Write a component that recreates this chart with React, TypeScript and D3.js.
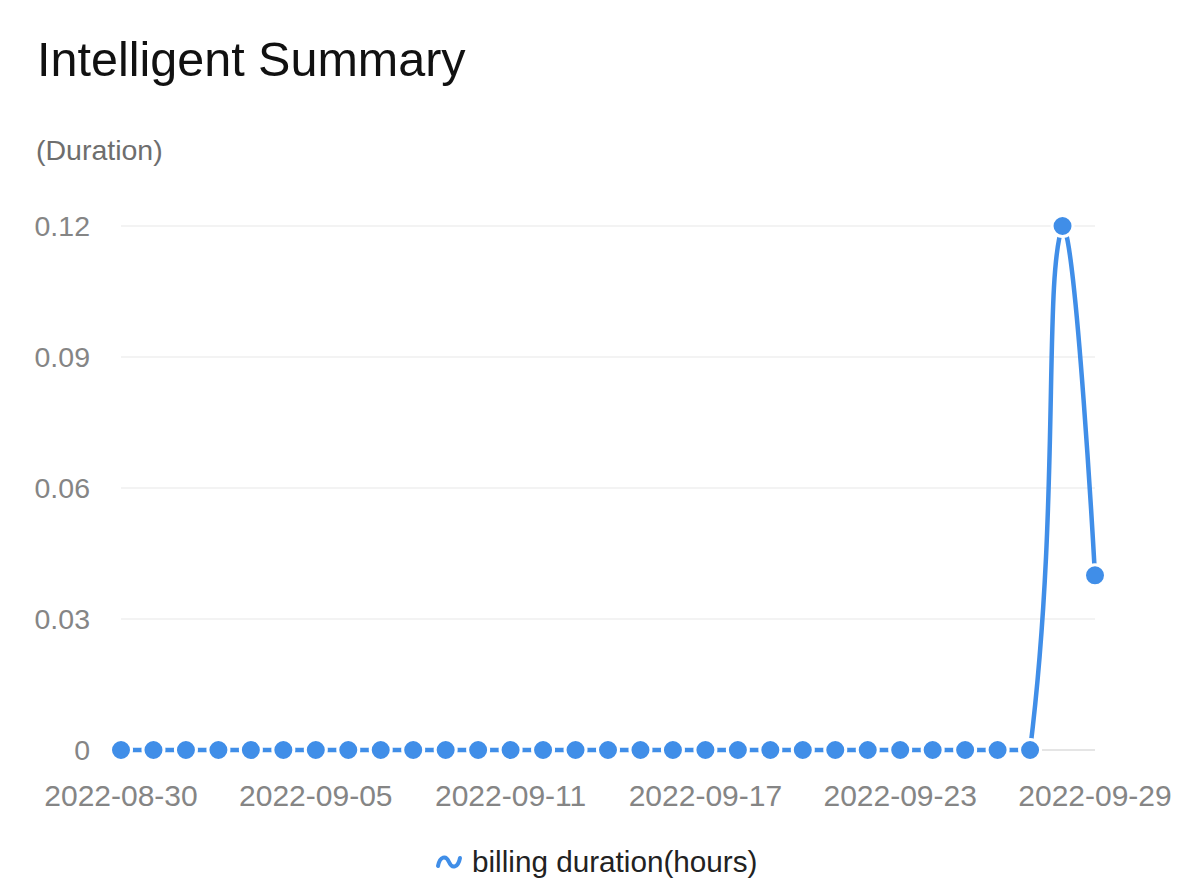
import React, { useEffect, useRef } from "react";
import * as d3 from "d3";

const dates = [
  "2022-08-30", "2022-08-31", "2022-09-01", "2022-09-02", "2022-09-03", "2022-09-04",
  "2022-09-05", "2022-09-06", "2022-09-07", "2022-09-08", "2022-09-09", "2022-09-10",
  "2022-09-11", "2022-09-12", "2022-09-13", "2022-09-14", "2022-09-15", "2022-09-16",
  "2022-09-17", "2022-09-18", "2022-09-19", "2022-09-20", "2022-09-21", "2022-09-22",
  "2022-09-23", "2022-09-24", "2022-09-25", "2022-09-26", "2022-09-27", "2022-09-28",
  "2022-09-29",
];
const billingHours = [
  0, 0, 0, 0, 0, 0, 0, 0, 0, 0, 0, 0, 0, 0, 0, 0, 0, 0, 0, 0, 0, 0, 0, 0, 0, 0, 0, 0, 0,
  0.12, 0.04,
];
const xTickLabels = ["2022-08-30", "2022-09-05", "2022-09-11", "2022-09-17", "2022-09-23", "2022-09-29"];
const yTicks = [0, 0.03, 0.06, 0.09, 0.12];

const W = 1184;
const H = 896;
const BLUE = "#408ee8";
const FONT = "'Liberation Sans', Arial, Helvetica, sans-serif";

const clamp = (v: number, a: number, b: number) => Math.min(Math.max(v, Math.min(a, b)), Math.max(a, b));

// smooth curve like the original chart's (control points scaled by segment length,
// kept inside each segment's box so it never overshoots)
function smoothCurve(context: any) {
  let pts: [number, number][] = [];
  const smooth = 0.5;
  return {
    areaStart() {},
    areaEnd() {},
    lineStart() { pts = []; },
    point(x: number, y: number) { pts.push([x, y]); },
    lineEnd() {
      if (!pts.length) return;
      context.moveTo(pts[0][0], pts[0][1]);
      let cpx0 = pts[0][0], cpy0 = pts[0][1];
      for (let i = 1; i < pts.length; i++) {
        const [x, y] = pts[i];
        const [px, py] = pts[i - 1];
        let vx = 0, vy = 0, ratio = 0.5, ncx = x, ncy = y;
        if (i < pts.length - 1) {
          const [nx, ny] = pts[i + 1];
          vx = nx - px;
          vy = ny - py;
          const lp = Math.hypot(x - px, y - py);
          const ln = Math.hypot(nx - x, ny - y);
          ratio = ln / (ln + lp || 1);
          ncx = clamp(x - vx * smooth * (1 - ratio), px, x);
          ncy = clamp(y - vy * smooth * (1 - ratio), py, y);
        }
        context.bezierCurveTo(cpx0, cpy0, ncx, ncy, x, y);
        if (i < pts.length - 1) {
          const [nx, ny] = pts[i + 1];
          cpx0 = clamp(x + vx * smooth * ratio, x, nx);
          cpy0 = clamp(y + vy * smooth * ratio, y, ny);
        }
      }
    },
  };
}

export default function App() {
  const ref = useRef<SVGSVGElement>(null);

  useEffect(() => {
    const svg = d3.select(ref.current);
    svg.selectAll("*").remove();

    const x = d3.scalePoint<string>().domain(dates).range([121, 1095]);
    const y = d3.scaleLinear().domain([0, 0.12]).range([750, 226]);

    svg.append("rect").attr("width", W).attr("height", H).attr("fill", "#fff");

    // title + unit
    svg.append("text")
      .attr("x", 37).attr("y", 76)
      .attr("font-size", 48.5).attr("fill", "#111")
      .text("Intelligent Summary");
    svg.append("text")
      .attr("x", 36).attr("y", 160)
      .attr("font-size", 28.5).attr("fill", "#6e6e6e")
      .text("(Duration)");

    // grid
    svg.append("g").selectAll("line").data(yTicks).join("line")
      .attr("x1", 121).attr("x2", 1095)
      .attr("y1", d => y(d)).attr("y2", d => y(d))
      .attr("stroke", d => (d === 0 ? "#dcdcdc" : "#efefef"))
      .attr("stroke-width", 1.5);

    svg.append("g").selectAll("text").data(yTicks).join("text")
      .attr("x", 90).attr("y", d => y(d)).attr("dy", "0.35em")
      .attr("text-anchor", "end")
      .attr("font-size", 28.5).attr("fill", "#858585")
      .text(d => (d === 0 ? "0" : d3.format(".2f")(d)));

    svg.append("g").selectAll("text").data(xTickLabels).join("text")
      .attr("x", d => x(d)!).attr("y", 806)
      .attr("text-anchor", "middle")
      .attr("font-size", 30).attr("fill", "#858585")
      .text(d => d);

    // series line
    const line = d3.line<number>()
      .x((_, i) => x(dates[i])!)
      .y(d => y(d))
      .curve(smoothCurve as any);
    svg.append("path")
      .datum(billingHours)
      .attr("d", line)
      .attr("fill", "none")
      .attr("stroke", BLUE)
      .attr("stroke-width", 4.5);

    svg.append("g").selectAll("circle").data(billingHours).join("circle")
      .attr("cx", (_, i) => x(dates[i])!)
      .attr("cy", d => y(d))
      .attr("r", 10.5)
      .attr("fill", BLUE)
      .attr("stroke", "#fff")
      .attr("stroke-width", 3);

    // legend
    svg.append("path")
      .attr("d", "M438,866 C440,856 446,855 449,862 C452,869 458,868 460,858")
      .attr("fill", "none").attr("stroke", BLUE)
      .attr("stroke-width", 4).attr("stroke-linecap", "round");
    svg.append("text")
      .attr("x", 472).attr("y", 872)
      .attr("font-size", 29.7).attr("fill", "#222")
      .text("billing duration(hours)");
  }, []);

  return (
    <svg
      ref={ref}
      width={W}
      height={H}
      style={{ position: "absolute", left: 0, top: 0, display: "block", fontFamily: FONT }}
    />
  );
}
